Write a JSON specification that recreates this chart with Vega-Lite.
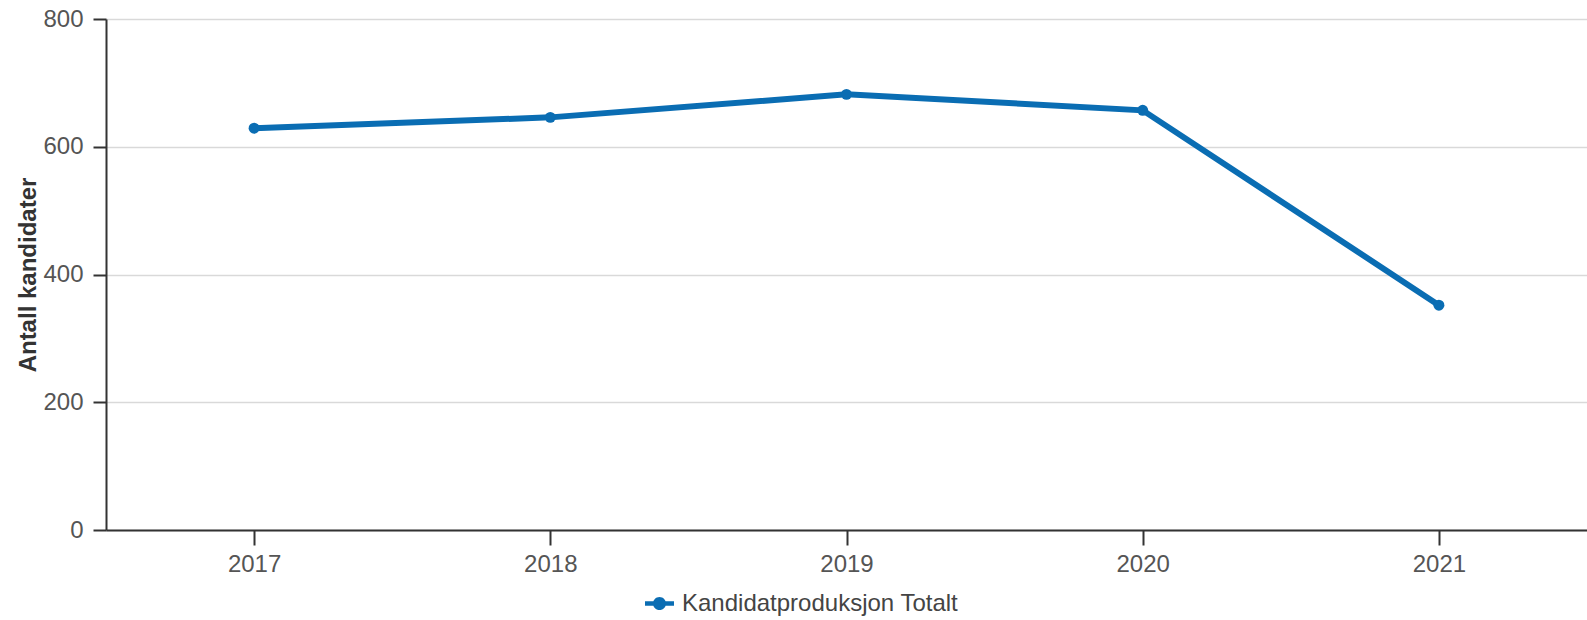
{
  "$schema": "https://vega.github.io/schema/vega-lite/v6.json",
  "width": 1481,
  "height": 511,
  "autosize": "none",
  "padding": {"left": 106, "top": 19, "right": 0, "bottom": 90},
  "background": "white",
  "config": {
    "view": {"stroke": null},
    "font": "Liberation Sans"
  },
  "data": {
    "values": [
      {"year": "2017", "value": 629, "series": "Kandidatproduksjon Totalt"},
      {"year": "2018", "value": 646, "series": "Kandidatproduksjon Totalt"},
      {"year": "2019", "value": 682, "series": "Kandidatproduksjon Totalt"},
      {"year": "2020", "value": 657, "series": "Kandidatproduksjon Totalt"},
      {"year": "2021", "value": 352, "series": "Kandidatproduksjon Totalt"}
    ]
  },
  "encoding": {
    "x": {
      "field": "year",
      "type": "ordinal",
      "scale": {"type": "point", "padding": 0.5},
      "axis": {
        "title": null,
        "labelAngle": 0,
        "labelFontSize": 24,
        "labelColor": "#555555",
        "labelPadding": 7,
        "tickSize": 15,
        "tickColor": "#333333",
        "tickWidth": 2,
        "domainColor": "#333333",
        "domainWidth": 2,
        "grid": false
      }
    },
    "y": {
      "field": "value",
      "type": "quantitative",
      "scale": {"domain": [0, 800]},
      "axis": {
        "title": "Antall kandidater",
        "titleFontSize": 24,
        "titleFontWeight": "bold",
        "titleColor": "#333333",
        "titlePadding": 2,
        "values": [0, 200, 400, 600, 800],
        "labelFontSize": 24,
        "labelColor": "#555555",
        "labelPadding": 10,
        "tickSize": 13,
        "tickColor": "#333333",
        "tickWidth": 2,
        "domainColor": "#333333",
        "domainWidth": 2,
        "gridColor": "#d9d9d9",
        "gridWidth": 1.5
      }
    }
  },
  "layer": [
    {
      "mark": {"type": "line", "strokeWidth": 6},
      "encoding": {
        "color": {
          "field": "series",
          "type": "nominal",
          "scale": {"range": ["#0a6db3"]},
          "legend": {
            "title": null,
            "orient": "none",
            "legendX": 539,
            "legendY": 570,
            "symbolType": "M-1,-0.16H1V0.16H-1Z M0.45,0 A0.45,0.45 0 1,1 -0.45,0 A0.45,0.45 0 1,1 0.45,0Z",
            "symbolSize": 841,
            "symbolFillColor": "#0a6db3",
            "symbolStrokeWidth": 0,
            "symbolOpacity": 1,
            "labelFontSize": 24,
            "labelLimit": 0,
            "labelColor": "#444444",
            "labelOffset": 8
          }
        }
      }
    },
    {
      "mark": {"type": "point", "filled": true, "size": 120, "opacity": 1, "color": "#0a6db3"},
      "encoding": {}
    }
  ]
}
